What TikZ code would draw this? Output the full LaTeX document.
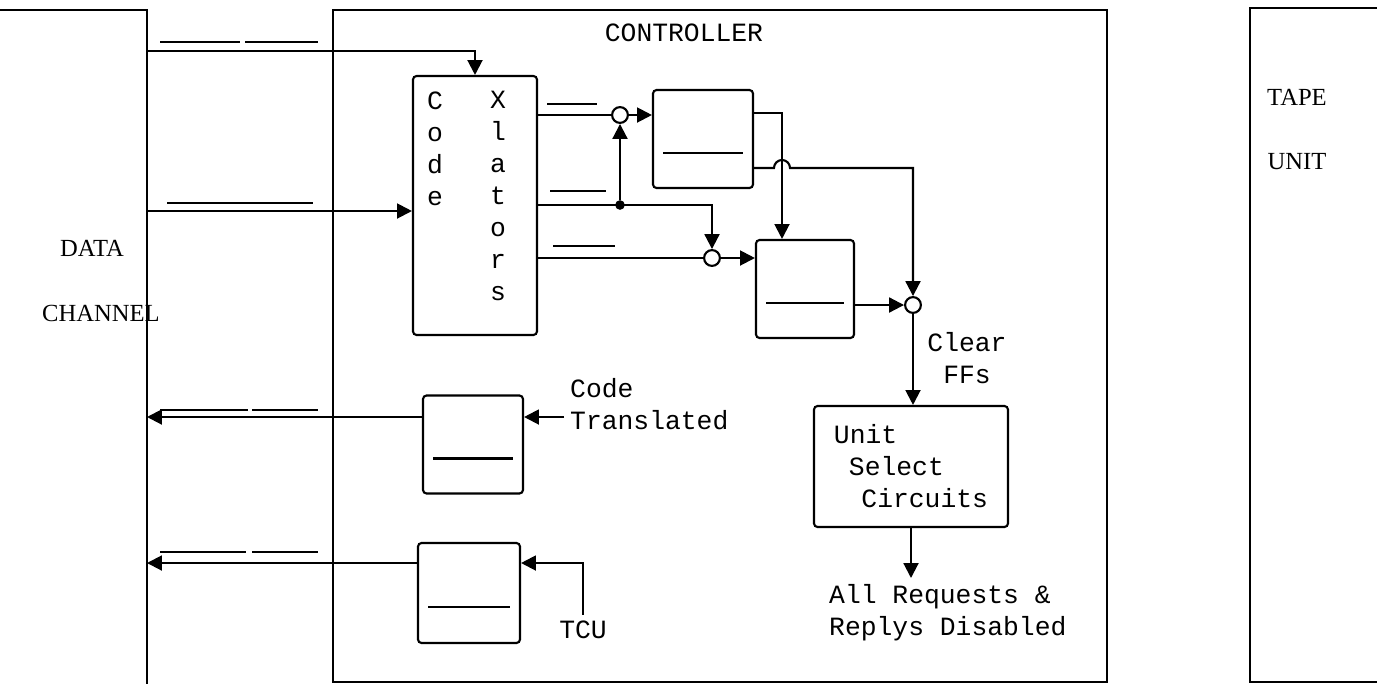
\documentclass[tikz,border=0pt]{standalone}
\usepackage{fontspec}
\setmainfont{Liberation Serif}
\setmonofont{Liberation Mono}
\usetikzlibrary{arrows.meta}

\tikzset{
  wire/.style={line width=1.2pt},
  sig/.style={wire, -{Triangle[length=8.5pt,width=8.5pt]}},
  bar/.style={line width=1.2pt},
  box/.style={draw, line width=1.2pt, rounded corners=2pt, inner sep=0pt},
  ffbox/.style={box, minimum width=2cm, minimum height=1.96cm,
    path picture={\draw[line width=1.2pt]
      ([xshift=0.2cm,yshift=-0.28cm]path picture bounding box.west) --
      ([xshift=-0.2cm,yshift=-0.28cm]path picture bounding box.east);}},
  gate/.style={circle, draw, fill=white, line width=1.2pt, inner sep=0pt, minimum size=9pt},
  joint/.style={circle, fill, inner sep=0pt, minimum size=5.5pt},
  tw/.style={font=\ttfamily\fontsize{15}{18.2}\selectfont},
  rm/.style={font=\fontsize{14}{17}\selectfont}
}

\begin{document}
\begin{tikzpicture}[x=0.02cm, y=-0.02cm]
    \useasboundingbox (0,0) rectangle (1377,684);

    % Outer units
    \draw[wire] (0,10) -- (147,10) -- (147,684);
    \draw[wire] (333,10) rectangle (1107,682);
    \draw[wire] (1377,8) -- (1250,8) -- (1250,682) -- (1377,682);

    \node[rm] (dch1) at (92,248) {DATA};
    \node[rm] (dch2) at (101,313) {CHANNEL};
    \node[tw] (ctl) at (684,33) {CONTROLLER};
    \node[rm] (tu1) at (1297,97) {TAPE};
    \node[rm] (tu2) at (1297,162) {UNIT};

    % Data channel side
    \coordinate (dcA) at (147,51);
    \coordinate (dcB) at (147,211);
    \coordinate (dcC) at (147,417);
    \coordinate (dcD) at (147,563);

    % Code xlators
    \node[box, minimum width=2.48cm, minimum height=5.18cm] (xl) at (475,205.5) {};
    \node[tw, align=center, anchor=north] (xlc) at (435,86) {C\\o\\d\\e};
    \node[tw, align=center, anchor=north] (xlx) at (498,85) {X\\l\\a\\t\\o\\r\\s};

    \draw[sig] (dcA) -| (xl.north);
    \draw[sig] (dcB) -- (dcB -| xl.west);

    % Flip-flops and gates
    \node[gate] (g1) at (620,115) {};
    \node[joint] (j1) at (620,205) {};
    \node[gate] (g2) at (712,258) {};
    \node[gate] (g3) at (913,305) {};
    \node[ffbox] (ff1) at (703,139) {};
    \node[ffbox, minimum width=1.96cm] (ff2) at (805,289) {};
    \coordinate (hop) at (782,168);

    \draw[wire] (xl.east |- g1) -- (g1.west);
    \draw[sig] (g1.east) -- (g1 -| ff1.west);
    \draw[sig] (xl.east |- j1) -| (g2.north);
    \draw[sig] (j1) -- (g1.south);
    \draw[wire] (xl.east |- g2) -- (g2.west);
    \draw[sig] (g2.east) -- (g2 -| ff2.west);

    \draw[sig] ([yshift=0.52cm]ff1.east) -| (hop |- ff2.north);
    \draw[sig] ([yshift=-0.58cm]ff1.east) -- ([xshift=-0.16cm]hop)
      arc[start angle=180, end angle=0, radius=0.16cm] -| (g3.north);
    \draw[sig] (g3 -| ff2.east) -- (g3.west);

    % Unit select
    \node[box, tw, align=left, minimum width=3.88cm, minimum height=2.42cm] (us) at (911,466.5)
      {Unit\\\hspace{0.3cm}Select\\\hspace{0.55cm}Circuits};
    \node[tw, align=center] (clr) at (967,358) {Clear\\FFs};
    \node[tw, align=left, anchor=north west] (dis) at (823,578) {All Requests \&\\Replys Disabled};

    \draw[sig] (g3.south) -- (g3 |- us.north);
    \draw[sig] (us.south) -- (us.south |- dis.north);

    % Replies to the data channel
    \node[ffbox] (ct) at (473,444.5) {};
    \node[tw, align=left, anchor=north west] (cttext) at (564,372) {Code\\Translated};
    \node[ffbox, minimum width=2.04cm, minimum height=2cm] (tcu) at (469,593) {};
    \node[tw] (tcutext) at (583,630) {TCU};

    \draw[sig] (ct.west |- dcC) -- (dcC);
    \draw[sig] (cttext.west |- dcC) -- (ct.east |- dcC);
    \draw[sig] (tcu.west |- dcD) -- (dcD);
    \draw[sig] (tcutext.north) |- (tcu.east |- dcD);

    % Bars over the lines
    \foreach \xa/\xb/\y in {160/240/42, 245/318/42, 167/313/203, 547/597/104, 550/606/191,
                            553/615/246, 160/248/410, 252/318/410, 160/246/552, 252/318/552} {
      \draw[bar] (\xa,\y) -- (\xb,\y);
    }
\end{tikzpicture}
\end{document}
